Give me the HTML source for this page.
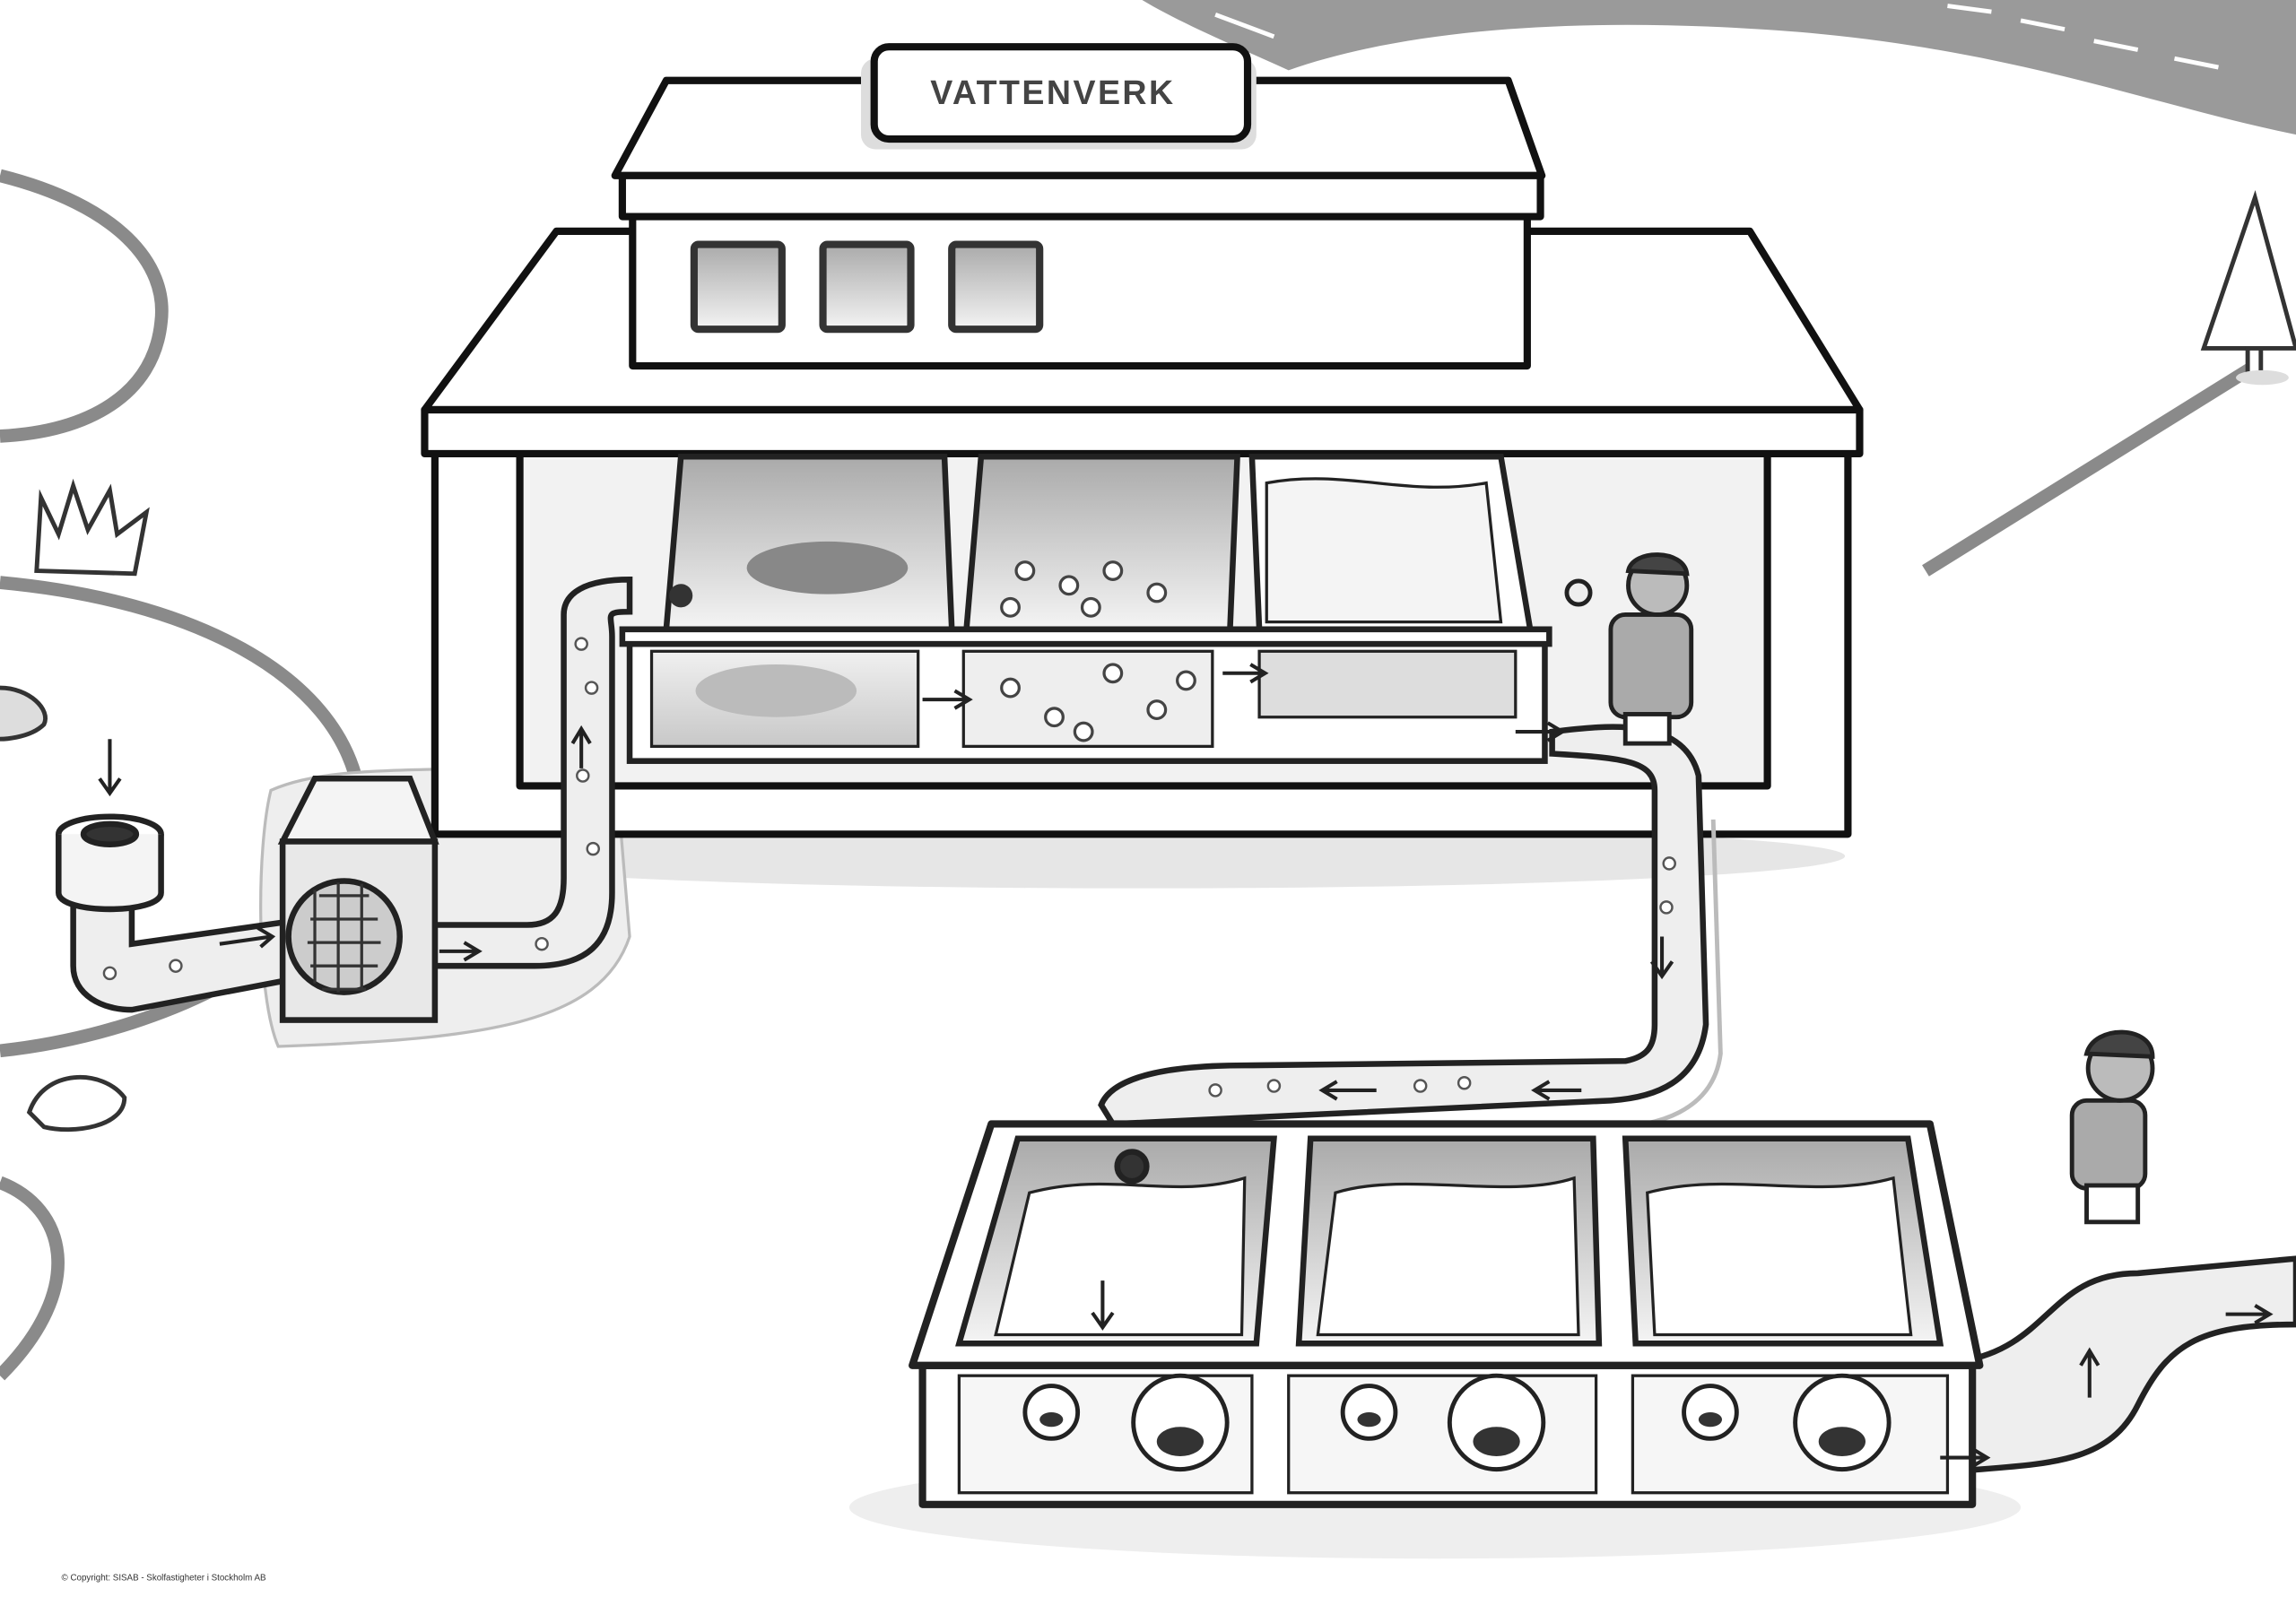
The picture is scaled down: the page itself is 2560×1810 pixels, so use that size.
<!DOCTYPE html>
<html><head><meta charset="utf-8"><style>html,body{margin:0;padding:0;background:#fff}svg{display:block}</style></head><body>
<svg width="2560" height="1810" viewBox="0 0 1568 1109" preserveAspectRatio="none" xmlns="http://www.w3.org/2000/svg" font-family="Liberation Sans, sans-serif">
<defs>
<linearGradient id="g1" x1="0" y1="0" x2="0" y2="1"><stop offset="0" stop-color="#aaa"/><stop offset="1" stop-color="#f4f4f4"/></linearGradient>
<linearGradient id="g2" x1="0" y1="0" x2="0" y2="1"><stop offset="0" stop-color="#f0f0f0"/><stop offset="1" stop-color="#c8c8c8"/></linearGradient>
</defs>
<rect width="1568" height="1109" fill="#fff"/>
<!-- road -->
<path d="M780,0 L1568,0 L1568,92 C1470,72 1380,35 1230,22 C1080,10 960,20 880,48 C840,30 805,15 780,0Z" fill="#9a9a9a"/>
<path d="M830,10 L870,25 M1330,4 L1360,8 M1380,14 L1410,20 M1430,28 L1460,34 M1485,40 L1515,46" stroke="#fff" stroke-width="3"/>
<!-- lake lines -->
<g fill="none" stroke="#8a8a8a" stroke-width="9">
<path d="M0,120 C80,140 115,180 110,220 C105,270 60,295 0,298"/>
<path d="M0,398 C130,410 230,460 245,540 C255,640 120,705 0,718"/>
<path d="M0,808 C45,825 60,880 0,940"/>
<path d="M1315,390 L1540,250"/>
</g>
<!-- grass left -->
<path d="M25,390 L28,340 L40,365 L50,332 L60,362 L75,335 L80,365 L100,350 L92,392Z" fill="#fff" stroke="#333" stroke-width="3"/>
<path d="M0,470 C20,470 35,485 30,495 C20,505 0,505 0,505" fill="#ddd" stroke="#333" stroke-width="3"/>
<path d="M20,760 C30,730 70,730 85,750 C85,770 50,775 30,770Z" fill="#fff" stroke="#333" stroke-width="3"/>
<!-- tree -->
<path d="M1505,238 L1540,135 L1568,238Z" fill="#fff" stroke="#333" stroke-width="3"/>
<rect x="1535" y="238" width="9" height="20" fill="#fff" stroke="#333" stroke-width="3"/>
<ellipse cx="1545" cy="258" rx="18" ry="5" fill="#ddd"/>
<!-- building shadow -->
<ellipse cx="780" cy="585" rx="480" ry="22" fill="#e6e6e6"/>
<path d="M185,540 C230,520 300,530 420,520 L430,640 C410,700 330,710 190,715 C175,680 175,580 185,540Z" fill="#eee" stroke="#bbb" stroke-width="2"/>
<!-- building -->
<g stroke="#111" stroke-width="5" stroke-linejoin="round">
<rect x="297" y="305" width="965" height="265" fill="#fff"/>
<rect x="355" y="305" width="852" height="232" fill="#f2f2f2"/>
<path d="M380,158 L1195,158 L1270,280 L290,280Z" fill="#fff"/>
<rect x="290" y="280" width="980" height="30" fill="#fff"/>
<rect x="432" y="145" width="611" height="105" fill="#fff"/>
<path d="M455,55 L1030,55 L1053,120 L420,120Z" fill="#fff"/>
<rect x="425" y="120" width="627" height="28" fill="#fff"/>
</g>
<rect x="588" y="40" width="270" height="62" rx="10" fill="#ddd"/>
<rect x="597" y="32" width="255" height="63" rx="10" fill="#fff" stroke="#111" stroke-width="5"/>
<text x="719" y="71" font-size="23" font-weight="bold" text-anchor="middle" fill="#444" letter-spacing="1.5">VATTENVERK</text>
<g fill="url(#g1)" stroke="#333" stroke-width="5">
<rect x="474" y="167" width="60" height="58" rx="3"/><rect x="562" y="167" width="60" height="58" rx="3"/><rect x="650" y="167" width="60" height="58" rx="3"/>
</g>
<!-- inner tanks -->
<g stroke="#222" stroke-width="4">
<rect x="430" y="440" width="625" height="80" fill="#fff"/>
<rect x="445" y="445" width="182" height="65" fill="url(#g2)" stroke-width="2"/>
<rect x="658" y="445" width="170" height="65" fill="#eee" stroke-width="2"/>
<rect x="860" y="445" width="175" height="45" fill="#ddd" stroke-width="2"/>
<path d="M465,312 L645,312 L650,430 L455,430Z" fill="url(#g1)"/>
<path d="M670,312 L845,312 L840,430 L660,430Z" fill="url(#g1)"/>
<path d="M855,312 L1025,312 L1045,430 L860,430Z" fill="#fff"/>
<path d="M865,330 C920,320 960,340 1015,330 L1025,425 L865,425Z" fill="#f4f4f4" stroke-width="2"/>
<path d="M425,440 L1058,440 L1058,430 L425,430Z" fill="#fff"/>
</g>
<ellipse cx="565" cy="388" rx="55" ry="18" fill="#888"/>
<ellipse cx="530" cy="472" rx="55" ry="18" fill="#bbb"/>
<g fill="#fff" stroke="#444" stroke-width="2">
<circle cx="700" cy="390" r="6"/><circle cx="730" cy="400" r="6"/><circle cx="760" cy="390" r="6"/><circle cx="790" cy="405" r="6"/><circle cx="690" cy="415" r="6"/><circle cx="745" cy="415" r="6"/>
<circle cx="690" cy="470" r="6"/><circle cx="720" cy="490" r="6"/><circle cx="760" cy="460" r="6"/><circle cx="790" cy="485" r="6"/><circle cx="810" cy="465" r="6"/><circle cx="740" cy="500" r="6"/>
</g>
<!-- inlet pipe -->
<g stroke="#222" stroke-width="4" fill="#fff">
<path d="M50,580 L50,660 C50,680 70,690 90,690 L195,670 L195,630 L90,645 L90,600Z" fill="#eee"/>
<ellipse cx="75" cy="570" rx="35" ry="12"/>
<path d="M40,570 L40,610 C40,625 110,625 110,610 L110,570" fill="#f4f4f4"/>
<ellipse cx="75" cy="570" rx="18" ry="7" fill="#333"/>
<path d="M297,632 L360,632 C378,632 385,622 385,600 L385,420 C385,405 400,396 430,396 L430,418 C412,418 418,420 418,435 L418,610 C418,645 400,660 365,660 L297,660Z" fill="#eee"/>
<path d="M193,575 L215,532 L280,532 L297,575Z" fill="#f4f4f4"/>
<rect x="193" y="575" width="104" height="122" fill="#e8e8e8"/>
<circle cx="235" cy="640" r="38" fill="#ccc"/>
</g>
<circle cx="465" cy="407" r="8" fill="#333"/>
<g fill="#fff" stroke="#555" stroke-width="1.5">
<circle cx="397" cy="440" r="4"/><circle cx="404" cy="470" r="4"/><circle cx="398" cy="530" r="4"/><circle cx="405" cy="580" r="4"/><circle cx="370" cy="645" r="4"/><circle cx="75" cy="665" r="4"/><circle cx="120" cy="660" r="4"/>
</g>
<path d="M218,612 L252,612 M212,628 L258,628 M210,644 L260,644 M212,660 L258,660 M220,676 L250,676 M215,608 L215,672 M231,603 L231,678 M247,604 L247,677" stroke="#333" stroke-width="2"/>
<!-- outlet pipe -->
<path d="M1060,500 C1100,495 1150,490 1160,530 L1165,700 C1160,740 1130,750 1100,752 L760,768 L752,755 C760,735 800,728 850,728 L1110,725 C1125,722 1130,715 1130,700 L1130,540 C1130,520 1110,518 1060,515Z" fill="#eee" stroke="#222" stroke-width="4"/>
<path d="M1170,560 L1175,720 C1170,760 1130,770 1100,770" fill="none" stroke="#bbb" stroke-width="3"/>
<g fill="#fff" stroke="#555" stroke-width="1.5">
<circle cx="1140" cy="590" r="4"/><circle cx="1138" cy="620" r="4"/><circle cx="1000" cy="740" r="4"/><circle cx="870" cy="742" r="4"/><circle cx="830" cy="745" r="4"/><circle cx="970" cy="742" r="4"/>
</g>
<!-- character 1 -->
<g stroke="#222" stroke-width="3">
<rect x="1100" y="420" width="55" height="70" rx="10" fill="#aaa"/>
<circle cx="1132" cy="400" r="20" fill="#bbb"/>
<path d="M1112,390 C1115,375 1150,375 1152,392Z" fill="#444"/>
<rect x="1110" y="488" width="30" height="20" fill="#fff"/>
<circle cx="1078" cy="405" r="8" fill="#eee"/>
</g>
<!-- bottom tanks -->
<ellipse cx="980" cy="1030" rx="400" ry="35" fill="#eee"/>
<path d="M1340,930 C1400,920 1400,870 1460,870 L1568,860 L1568,905 C1500,905 1480,920 1460,960 C1440,1000 1400,1000 1340,1005Z" fill="#eee" stroke="#222" stroke-width="4"/>
<g stroke="#222" stroke-width="5" stroke-linejoin="round">
<rect x="630" y="933" width="717" height="95" fill="#fff"/>
<path d="M677,768 L1318,768 L1352,933 L623,933Z" fill="#fff"/>
</g>
<g stroke="#222" stroke-width="4">
<path d="M695,778 L870,778 L858,918 L655,918Z" fill="url(#g1)"/>
<path d="M895,778 L1088,778 L1092,918 L887,918Z" fill="url(#g1)"/>
<path d="M1110,778 L1303,778 L1325,918 L1117,918Z" fill="url(#g1)"/>
<path d="M703,815 C760,800 800,820 850,805 L848,912 L680,912Z" fill="#fff" stroke-width="2"/>
<path d="M912,815 C960,800 1030,820 1075,805 L1078,912 L900,912Z" fill="#fff" stroke-width="2"/>
<path d="M1125,815 C1180,800 1240,820 1293,805 L1305,912 L1130,912Z" fill="#fff" stroke-width="2"/>
<rect x="655" y="940" width="200" height="80" fill="#f6f6f6" stroke-width="2"/>
<rect x="880" y="940" width="210" height="80" fill="#f6f6f6" stroke-width="2"/>
<rect x="1115" y="940" width="215" height="80" fill="#f6f6f6" stroke-width="2"/>
<circle cx="773" cy="797" r="10" fill="#333"/>
</g>
<g fill="#fff" stroke="#222" stroke-width="3">
<circle cx="718" cy="965" r="18"/><circle cx="806" cy="972" r="32"/>
<circle cx="935" cy="965" r="18"/><circle cx="1022" cy="972" r="32"/>
<circle cx="1168" cy="965" r="18"/><circle cx="1258" cy="972" r="32"/>
</g>
<g fill="#333"><ellipse cx="806" cy="985" rx="16" ry="10"/><ellipse cx="1022" cy="985" rx="16" ry="10"/><ellipse cx="1258" cy="985" rx="16" ry="10"/><ellipse cx="718" cy="970" rx="8" ry="5"/><ellipse cx="935" cy="970" rx="8" ry="5"/><ellipse cx="1168" cy="970" rx="8" ry="5"/></g>
<!-- character 2 -->
<g stroke="#222" stroke-width="3">
<rect x="1415" y="752" width="50" height="60" rx="10" fill="#aaa"/>
<circle cx="1448" cy="730" r="22" fill="#bbb"/>
<path d="M1425,720 C1430,700 1470,700 1470,722Z" fill="#444"/>
<rect x="1425" y="810" width="35" height="25" fill="#fff"/>
</g>
<!-- arrows -->
<g fill="none" stroke="#222" stroke-width="2.5">
<path d="M753,875 L753,905 M746,897 L753,907 L760,897"/>
<path d="M1135,640 L1135,665 M1128,657 L1135,667 L1142,657"/>
<path d="M1080,745 L1050,745 M1058,739 L1048,745 L1058,751"/>
<path d="M940,745 L905,745 M913,739 L903,745 L913,751"/>
<path d="M1325,996 L1355,996 M1347,990 L1357,996 L1347,1002"/>
<path d="M1520,898 L1548,898 M1540,892 L1550,898 L1540,904"/>
<path d="M1035,500 L1065,500 M1057,494 L1067,500 L1057,506"/>
<path d="M630,478 L660,478 M652,472 L662,478 L652,484"/>
<path d="M835,460 L862,460 M854,454 L864,460 L854,466"/>
<path d="M150,645 L185,640 M176,634 L186,640 L178,647"/>
<path d="M300,650 L325,650 M317,644 L327,650 L317,656"/>
<path d="M75,505 L75,540 M68,532 L75,542 L82,532"/>
<path d="M397,525 L397,500 M391,508 L397,498 L403,508"/>
<path d="M1427,955 L1427,925 M1421,933 L1427,923 L1433,933"/>
</g>
<text x="42" y="1080" font-size="6" fill="#333">© Copyright: SISAB - Skolfastigheter i Stockholm AB</text>
</svg>
</body></html>
